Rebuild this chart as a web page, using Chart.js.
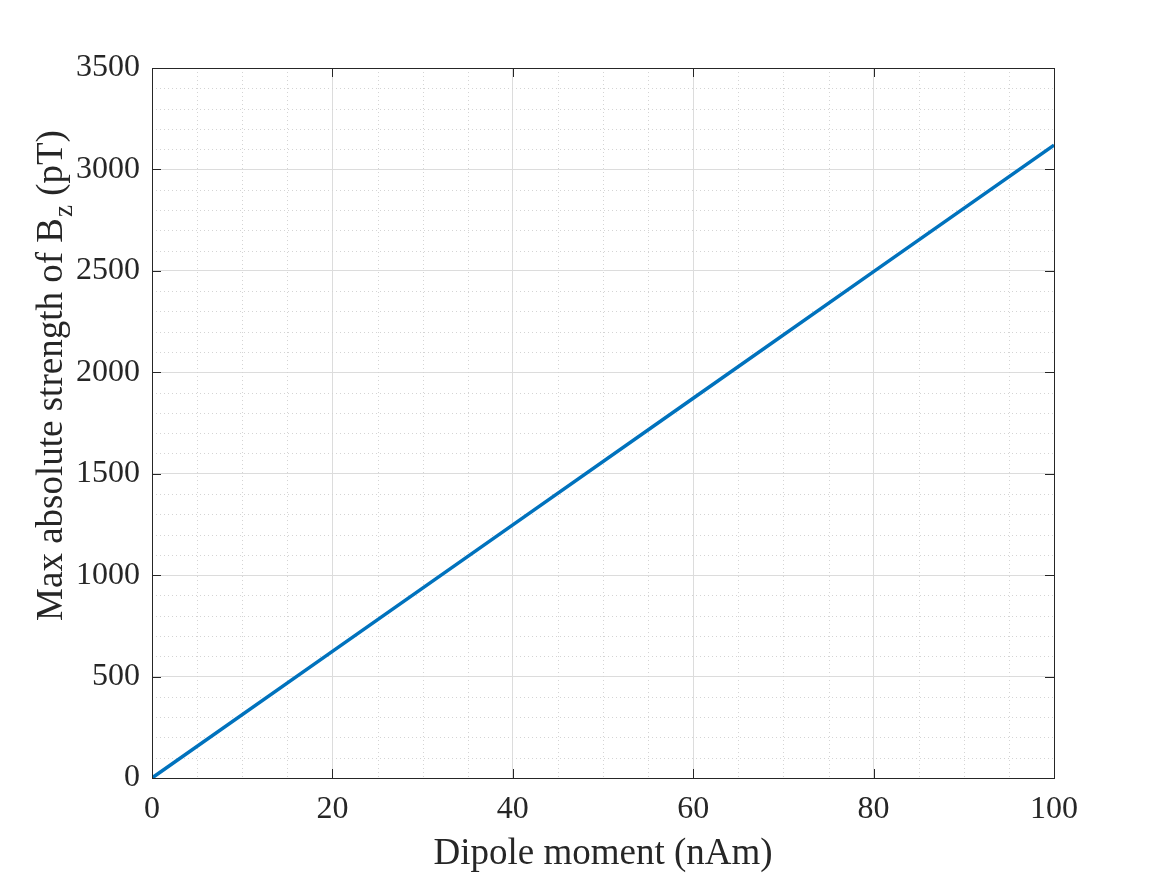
<!DOCTYPE html>
<html lang="en">
<head>
<meta charset="UTF-8">
<title>Dipole moment vs Bz</title>
<script src="https://cdn.jsdelivr.net/npm/chart.js@4.4.1/dist/chart.umd.min.js"></script>
<style>
  html, body { margin: 0; padding: 0; background: #fff; }
  #wrap { width: 1165px; height: 876px; }
</style>
</head>
<body>
<div id="wrap"><canvas id="myChart" width="1165" height="876"></canvas></div>
<script>
// data
var moment = [0, 20, 40, 60, 80, 100];          // nAm
var bzMax = [0, 624, 1248, 1872, 2496, 3120];    // pT
var xTitle = 'Dipole moment (nAm)';
var yTitleParts = ['Max absolute strength of B', 'z', ' (pT)'];

var serif = '"Liberation Serif", "Times New Roman", serif';
var axisColor = '#262626';

// minor dotted grid, inward ticks, box on top/right, axis titles
var matlabAxes = {
    id: 'matlabAxes',
    beforeDatasetsDraw(chart) {
        var ctx = chart.ctx, a = chart.chartArea;
        var xs = chart.scales.x, ys = chart.scales.y;
        ctx.save();
        ctx.strokeStyle = '#d4d4d4';
        ctx.lineWidth = 1;
        ctx.setLineDash([1, 3]);
        for (var v = 5; v < 100; v += 5) {
            if (v % 20 === 0) continue;
            var px = Math.round(xs.getPixelForValue(v)) + 0.5;
            ctx.beginPath(); ctx.moveTo(px, a.top); ctx.lineTo(px, a.bottom); ctx.stroke();
        }
        for (var w = 100; w < 3500; w += 100) {
            if (w % 500 === 0) continue;
            var py = Math.round(ys.getPixelForValue(w)) + 0.5;
            ctx.beginPath(); ctx.moveTo(a.left, py); ctx.lineTo(a.right, py); ctx.stroke();
        }
        ctx.restore();
    },
    afterDraw(chart) {
        var ctx = chart.ctx, a = chart.chartArea;
        var xs = chart.scales.x, ys = chart.scales.y;
        ctx.save();
        ctx.strokeStyle = axisColor;
        ctx.lineWidth = 1;
        ctx.setLineDash([]);
        ctx.strokeRect(Math.round(a.left) + 0.5, Math.round(a.top) + 0.5,
            Math.round(a.right - a.left), Math.round(a.bottom - a.top));
        var tl = 9;
        xs.ticks.forEach(function (t) {
            var px = Math.round(xs.getPixelForValue(t.value)) + 0.5;
            ctx.beginPath();
            ctx.moveTo(px, a.bottom); ctx.lineTo(px, a.bottom - tl);
            ctx.moveTo(px, a.top); ctx.lineTo(px, a.top + tl);
            ctx.stroke();
        });
        ys.ticks.forEach(function (t) {
            var py = Math.round(ys.getPixelForValue(t.value)) + 0.5;
            ctx.beginPath();
            ctx.moveTo(a.left, py); ctx.lineTo(a.left + tl, py);
            ctx.moveTo(a.right, py); ctx.lineTo(a.right - tl, py);
            ctx.stroke();
        });

        // x title
        ctx.fillStyle = axisColor;
        ctx.font = '37px ' + serif;
        ctx.textAlign = 'center';
        ctx.textBaseline = 'alphabetic';
        ctx.fillText(xTitle, (a.left + a.right) / 2, 864);

        // y title with subscript z
        var big = '37px ' + serif, small = '27px ' + serif;
        ctx.font = big;
        var w1 = ctx.measureText(yTitleParts[0]).width;
        var w3 = ctx.measureText(yTitleParts[2]).width;
        ctx.font = small;
        var w2 = ctx.measureText(yTitleParts[1]).width;
        var total = w1 + w2 + w3;
        ctx.translate(62, 376);
        ctx.rotate(-Math.PI / 2);
        ctx.textAlign = 'left';
        var x0 = -total / 2;
        ctx.font = big;
        ctx.fillText(yTitleParts[0], x0, 0);
        ctx.font = small;
        ctx.fillText(yTitleParts[1], x0 + w1 + 1, 10);
        ctx.font = big;
        ctx.fillText(yTitleParts[2], x0 + w1 + w2 + 1, 0);
        ctx.restore();
    }
};

var ctx = document.getElementById('myChart').getContext('2d');
var chart = new Chart(ctx, {
    type: 'scatter',
    data: {
        datasets: [{
            label: 'Bz',
            data: moment.map(function (m, i) { return { x: m, y: bzMax[i] }; }),
            showLine: true,
            borderColor: '#0072BD',
            backgroundColor: '#0072BD',
            borderWidth: 3.5,
            pointRadius: 0,
            tension: 0
        }]
    },
    options: {
        responsive: false,
        animation: false,
        layout: { padding: { top: 68, right: 111, left: 0, bottom: 0 } },
        plugins: {
            legend: { display: false },
            tooltip: { enabled: false }
        },
        scales: {
            x: {
                type: 'linear',
                min: 0, max: 100,
                ticks: {
                    stepSize: 20,
                    color: axisColor,
                    padding: 12,
                    maxRotation: 0,
                    font: { family: serif, size: 32 },
                    callback: function (v) { return String(v); }
                },
                grid: { color: '#dcdcdc', lineWidth: 1, drawTicks: false },
                border: { color: axisColor, width: 1 },
                afterFit: function (s) { s.height = 98; }
            },
            y: {
                type: 'linear',
                min: 0, max: 3500,
                ticks: {
                    stepSize: 500,
                    color: axisColor,
                    padding: 12,
                    font: { family: serif, size: 32 },
                    callback: function (v) { return String(v); }
                },
                grid: { color: '#dcdcdc', lineWidth: 1, drawTicks: false },
                border: { color: axisColor, width: 1 },
                afterFit: function (s) { s.width = 152; }
            }
        }
    },
    plugins: [matlabAxes]
});
</script>
</body>
</html>
